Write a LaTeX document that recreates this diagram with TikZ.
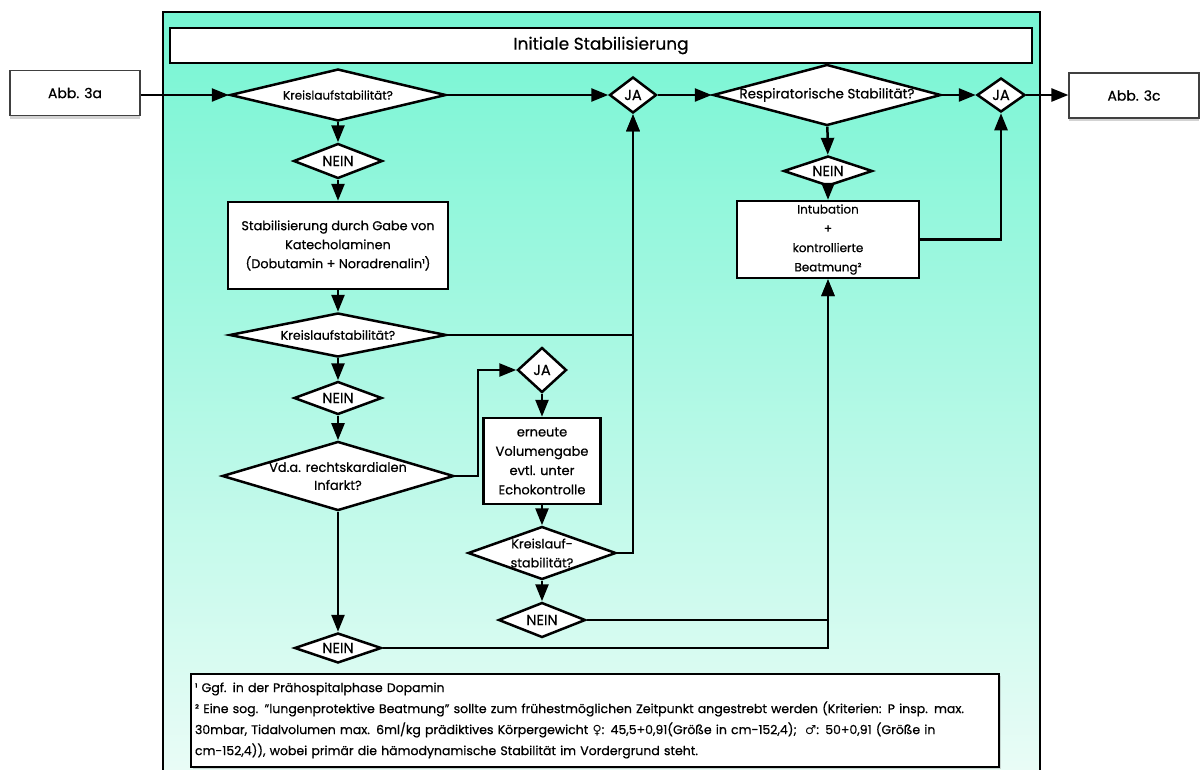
\documentclass[tikz,border=0pt]{standalone}
\usepackage{fontspec}
\setmainfont{Poppins}[FakeBold=0.6]
\newfontfamily\symfont{DejaVu Sans}
\usetikzlibrary{shapes.geometric,arrows.meta,shadows}
\definecolor{frametop}{RGB}{118,245,211}
\definecolor{framebot}{RGB}{236,252,247}

\begin{document}
\begin{tikzpicture}
[x=1pt,y=-1pt,line width=2.5pt,%
  >={Triangle[length=17pt,width=13pt]},%
  decision/.style={shape=diamond,draw,fill=white,inner sep=0pt,line width=2.5pt,align=center,font=\fontsize{12.5}{14}\selectfont},%
  answer/.style={decision,font=\fontsize{14.5}{16}\selectfont},%
  block/.style={shape=rectangle,draw,fill=white,line width=2.5pt,align=center,font=\fontsize{12.8}{19}\selectfont},%
  linkbox/.style={shape=rectangle,draw=black!75,line width=1.2pt,fill=white,minimum width=130pt,minimum height=45pt,drop shadow={shadow xshift=0pt,shadow yshift=-3pt,opacity=0.35},font=\fontsize{14}{16}\selectfont},%
  link/.style={->,line width=2.5pt}]
\clip (0,0) rectangle (1202,769);
\shade[top color=frametop,bottom color=framebot] (163,12) rectangle (1040,790);
\draw (163,12) rectangle (1040,790);

\node[block,minimum width=862pt,minimum height=35pt,font=\fontsize{17}{19}\selectfont] (title) at (601,45.5) {Initiale Stabilisierung};
\node[linkbox] (abbA) at (75,93) {Abb. 3a};
\node[linkbox] (abbC) at (1134,95.5) {Abb. 3c};

% top row
\node[decision,minimum width=216pt,minimum height=52pt,aspect=4.2,font=\fontsize{12}{14}\selectfont] (ks1) at (338,95) {Kreislaufstabilität?};
\node[answer,minimum width=47pt,minimum height=36pt,aspect=1.3] (ja1) at (633,95) {JA};
\node[decision,minimum width=228pt,minimum height=61pt,aspect=3.7,font=\fontsize{13.5}{15}\selectfont] (resp) at (827,95) {Respiratorische Stabilität?};
\node[answer,minimum width=48pt,minimum height=34pt,aspect=1.4] (ja2) at (1001,95) {JA};

% left column
\node[answer,minimum width=89pt,minimum height=35pt,aspect=2.5] (nein1) at (338,161) {NEIN};
\node[block,minimum width=220pt,minimum height=87pt] (stab) at (338,245.5) {Stabilisierung durch Gabe von\\Katecholaminen\\(Dobutamin + Noradrenalin¹)};
\node[decision,minimum width=217pt,minimum height=44pt,aspect=4.9] (ks2) at (338,335) {Kreislaufstabilität?};
\node[answer,minimum width=88pt,minimum height=33pt,aspect=2.6] (nein3) at (338,398) {NEIN};
\node[decision,minimum width=218pt,minimum height=65pt,aspect=3.35,font=\fontsize{13}{18}\selectfont] (rk) at (338,476) {Vd.a. rechtskardialen\\Infarkt?};
\node[answer,minimum width=87pt,minimum height=30pt,aspect=2.9] (nein5) at (338,648) {NEIN};

% middle column
\node[answer,minimum width=49pt,minimum height=45pt,aspect=1.1] (ja3) at (542,370) {JA};
\node[block,minimum width=117pt,minimum height=86pt,font=\fontsize{13}{19.3}\selectfont] (vol) at (542,461) {erneute\\Volumengabe\\evtl. unter\\Echokontrolle};
\node[decision,minimum width=148pt,minimum height=53pt,aspect=2.8,font=\fontsize{12.8}{19}\selectfont] (ks3) at (542,553) {Kreislauf-\\stabilität?};
\node[answer,minimum width=87pt,minimum height=35pt,aspect=2.5] (nein4) at (542,620) {NEIN};

% right column
\node[answer,minimum width=89pt,minimum height=30pt,aspect=3] (nein2) at (828,171) {NEIN};
\node[block,minimum width=182pt,minimum height=75pt,font=\fontsize{12}{19.3}\selectfont] (intub) at (828,239.5) {Intubation\\+\\kontrollierte\\Beatmung²};

\node[shape=rectangle,draw,fill=white,line width=2pt,anchor=north west,text width=800pt,minimum height=93pt,inner xsep=4pt,inner ysep=3pt,align=left,drop shadow={shadow xshift=2pt,shadow yshift=-2pt,opacity=0.3},font=\fontsize{12.5}{21}\selectfont] (notes) at (190,673)
{¹ Ggf. in der Prähospitalphase Dopamin\\
² Eine sog. "lungenprotektive Beatmung" sollte zum frühestmöglichen Zeitpunkt angestrebt werden (Kriterien: P insp. max.\\
30mbar, Tidalvolumen max. 6ml/kg prädiktives Körpergewicht {\symfont ♀}: 45,5+0,91(Größe in cm-152,4);\ \ {\symfont ♂}: 50+0,91 (Größe in\\
cm-152,4)), wobei primär die hämodynamische Stabilität im Vordergrund steht.};

\draw[link] (abbA.east |- ks1.west) -- (ks1.west);
\draw[link] (ks1) -- (ja1);
\draw[link] (ja1) -- (resp);
\draw[link] (resp) -- (ja2);
\draw[link] (ja2.east) -- (ja2.east -| abbC.west);
\draw[link] (ks1) -- (nein1);
\draw[link] (nein1) -- (stab);
\draw[link] (stab) -- (ks2);
\draw[link] (ks2.east) -| (ja1.south);
\draw[link] (ks2) -- (nein3);
\draw[link] (nein3) -- (rk);
\draw[link] (rk.east) -- ++(23,0) |- (ja3.west);
\draw[link] (ja3) -- (vol);
\draw[link] (vol) -- (ks3);
\draw[link] (ks3.east) -| (ja1.south);
\draw[link] (ks3) -- (nein4);
\draw[link] (nein4.east) -| (intub.south);
\draw[link] (rk) -- (nein5);
\draw[link] (nein5.east) -| (intub.south);
\draw[link] (resp) -- (nein2);
\draw[link] (nein2) -- (intub);
\draw[link] (intub.east) -| (ja2.south);
\end{tikzpicture}
\end{document}
